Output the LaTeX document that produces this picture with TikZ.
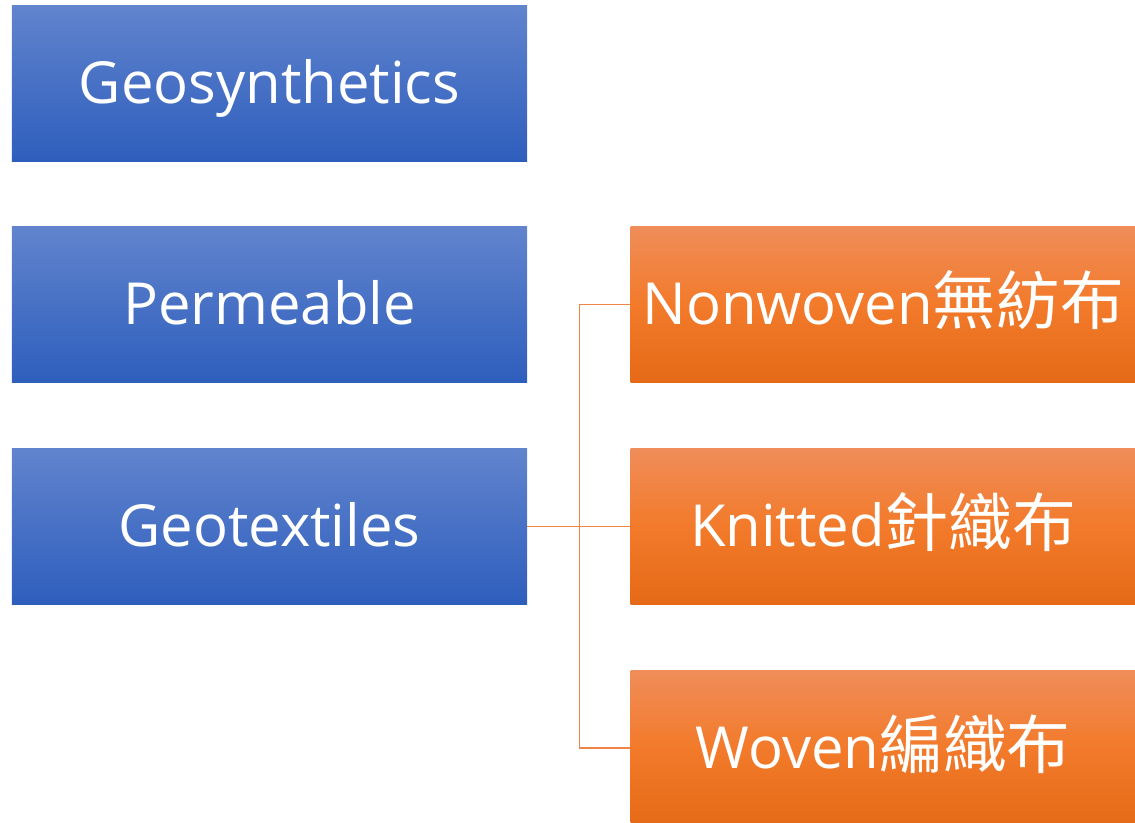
\documentclass[tikz,border=0pt]{standalone}
\usepackage{fontspec}
\setmainfont{Open Sans}
\newfontfamily\cjk[Scale=1.1]{Noto Sans CJK TC}
\usepackage{tikz}
\usetikzlibrary{positioning}
\usepackage{xcolor}
\definecolor{bluetop}{HTML}{6184CD}
\definecolor{bluebot}{HTML}{2E5EBD}
\definecolor{orangetop}{HTML}{F08D5A}
\definecolor{orangemid}{HTML}{F27A2A}
\definecolor{orangebot}{HTML}{E56A17}
\definecolor{linkorange}{HTML}{EE8546}
\tikzstyle{node_blue}=[minimum height=3.12cm, minimum width=10.3cm, inner sep=0pt, text height=1.0cm, text depth=0.2cm, top color=bluetop, bottom color=bluebot, text=white, font=\fontsize{33}{37}\selectfont]
\tikzstyle{node_orange}=[minimum height=3.12cm, minimum width=10.1cm, inner sep=0pt, text height=1.0cm, text depth=0.2cm, top color=orangetop, bottom color=orangebot, middle color=orangemid, text=white, font=\fontsize{33}{37}\selectfont]
\tikzstyle{connect}=[line width=0.8pt, linkorange]

\begin{document}
\begin{tikzpicture}[
    node distance=1.3cm]

\useasboundingbox (0,0) rectangle (22.7,-16.44);

% left column
        \node[node_blue] (geosyn) at (5.39,-1.66) {Geosynthetics};
        \node[node_blue, below=of geosyn] (perm) {Permeable};
        \node[node_blue, below=of perm] (geotex) {Geotextiles};
        % right column
        \node[node_orange, right=2.06cm of perm] (nonwoven) {Nonwoven{\cjk 無紡布}};
        \node[node_orange, below=of nonwoven] (knitted) {Knitted{\cjk 針織布}};
        \node[node_orange, below=of knitted] (woven) {Woven{\cjk 編織布}};

        \begin{scope}[connect]
            \draw (geotex.east) -- ++(1.04,0) |- (nonwoven.west);
            \draw (geotex.east) -- (knitted.west);
            \draw (geotex.east) -- ++(1.04,0) |- (woven.west);
        \end{scope}

\end{tikzpicture}
\end{document}
